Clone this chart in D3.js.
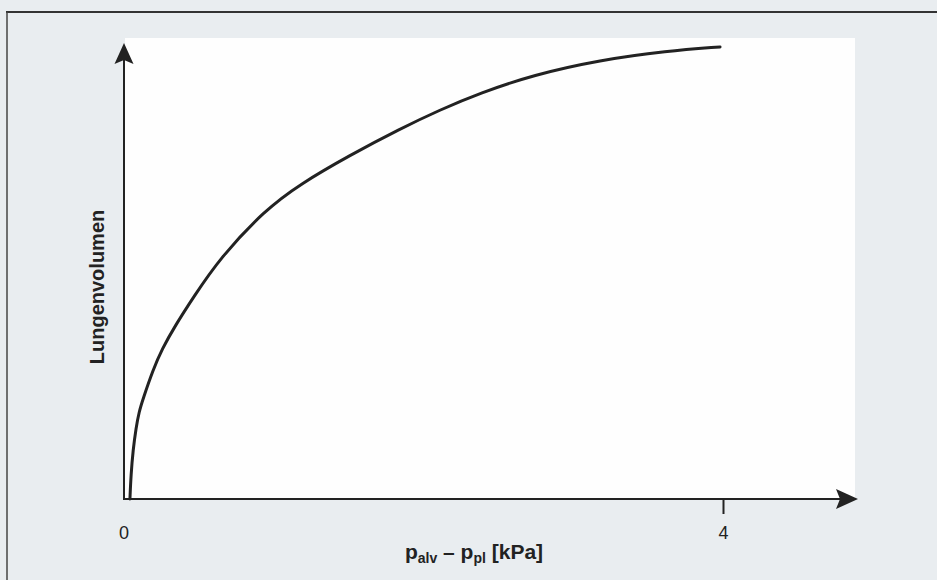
<!DOCTYPE html>
<html>
<head>
<meta charset="utf-8">
<script src="https://cdn.jsdelivr.net/npm/d3@7"></script>
<style>
  html, body { margin: 0; padding: 0; background: #e9edf0; }
  svg { display: block; font-family: "Liberation Sans", Arial, sans-serif; }
</style>
</head>
<body>
<div class="container"></div>
<script>
// pressure difference p_alv - p_pl in kPa, lung volume (relative)
const pressure = [0.013, 0.02, 0.034, 0.054, 0.074, 0.101, 0.168, 0.229, 0.316, 0.437,
                  0.618, 0.921, 1.156, 1.492, 1.828, 2.097, 2.366, 2.723, 3.173, 3.624, 3.98];
const volume   = [0, 0.053, 0.108, 0.157, 0.192, 0.221, 0.285, 0.331, 0.382, 0.444,
                  0.532, 0.638, 0.695, 0.759, 0.817, 0.859, 0.896, 0.936, 0.969, 0.989, 0.998];
const xTicks = [0, 4];
const xTickLabels = ["0", "4"];

const data = pressure.map((p, i) => ({p: p, v: volume[i]}));

const width = 937, height = 580;
const svg = d3.select(".container")
              .append("svg")
              .attr("width", width)
              .attr("height", height);

const xScale = d3.scaleLinear().domain([0, 4]).range([128, 723]);
const yScale = d3.scaleLinear().domain([0, 1]).range([499, 46]);

// page frame (scan edge)
svg.append("line")
   .attr("x1", 6).attr("x2", width).attr("y1", 12).attr("y2", 12)
   .attr("stroke", "#333").attr("stroke-width", 2);
svg.append("line")
   .attr("x1", 7).attr("x2", 7).attr("y1", 12).attr("y2", height)
   .attr("stroke", "#444").attr("stroke-width", 1.5);

// white plot panel
svg.append("rect")
   .attr("x", xScale(0) - 3)
   .attr("y", 38)
   .attr("width", 855 - xScale(0) + 3)
   .attr("height", yScale(0) - 38)
   .attr("fill", "#fefefe");

const axisColor = "#222";
const x0 = xScale(0) - 4, y0 = yScale(0);

// y axis with arrow
svg.append("line")
   .attr("x1", x0).attr("x2", x0).attr("y1", y0 + 1).attr("y2", 60)
   .attr("stroke", axisColor).attr("stroke-width", 2);
svg.append("path")
   .attr("d", `M${x0},43 L${x0 - 9.5},64 L${x0},60 L${x0 + 9.5},64 Z`)
   .attr("fill", axisColor);

// x axis with arrow
svg.append("line")
   .attr("x1", x0 - 1).attr("x2", 840).attr("y1", y0).attr("y2", y0)
   .attr("stroke", axisColor).attr("stroke-width", 2);
svg.append("path")
   .attr("d", `M858,${y0} L836,${y0 - 10} L840,${y0} L836,${y0 + 10} Z`)
   .attr("fill", axisColor);

// ticks and labels
const xAxis = d3.axisBottom(xScale)
                .tickValues(xTicks)
                .tickFormat((d, i) => xTickLabels[i])
                .tickSize(15)
                .tickPadding(12);
const drawX = svg.append("g")
                 .attr("transform", `translate(0, ${y0})`)
                 .call(xAxis)
                 .call(g => g.select(".domain").remove());
drawX.selectAll(".tick line")
     .attr("stroke", axisColor)
     .attr("stroke-width", 2)
     .attr("opacity", (d, i) => i === 0 ? 0 : 1);
drawX.selectAll(".tick text")
     .attr("fill", "#222")
     .style("font-size", "18px")
     .style("font-family", "'Liberation Sans', Arial, sans-serif");
drawX.selectAll(".tick").filter(d => d === 0)
     .attr("transform", `translate(${x0}, 0)`);

// curve
const line = d3.line()
               .x(d => xScale(d.p))
               .y(d => yScale(d.v))
               .curve(d3.curveBasis);
svg.append("path")
   .datum(data)
   .attr("fill", "none")
   .attr("stroke", "#222")
   .attr("stroke-width", 3)
   .attr("stroke-linecap", "round")
   .attr("d", line);

// axis titles
const xt = svg.append("text")
              .attr("x", 474)
              .attr("y", 559)
              .attr("text-anchor", "middle")
              .attr("fill", "#222")
              .style("font-weight", "bold")
              .style("font-size", "21px");
xt.append("tspan").text("p");
xt.append("tspan").attr("dy", 4).style("font-size", "14px").text("alv");
xt.append("tspan").attr("dy", -4).text(" \u2013 p");
xt.append("tspan").attr("dy", 4).style("font-size", "14px").text("pl");
xt.append("tspan").attr("dy", -4).text(" [kPa]");

svg.append("text")
   .attr("transform", "translate(104, 287) rotate(-90)")
   .attr("text-anchor", "middle")
   .attr("fill", "#222")
   .style("font-weight", "bold")
   .style("font-size", "20px")
   .text("Lungenvolumen");
</script>
</body>
</html>
